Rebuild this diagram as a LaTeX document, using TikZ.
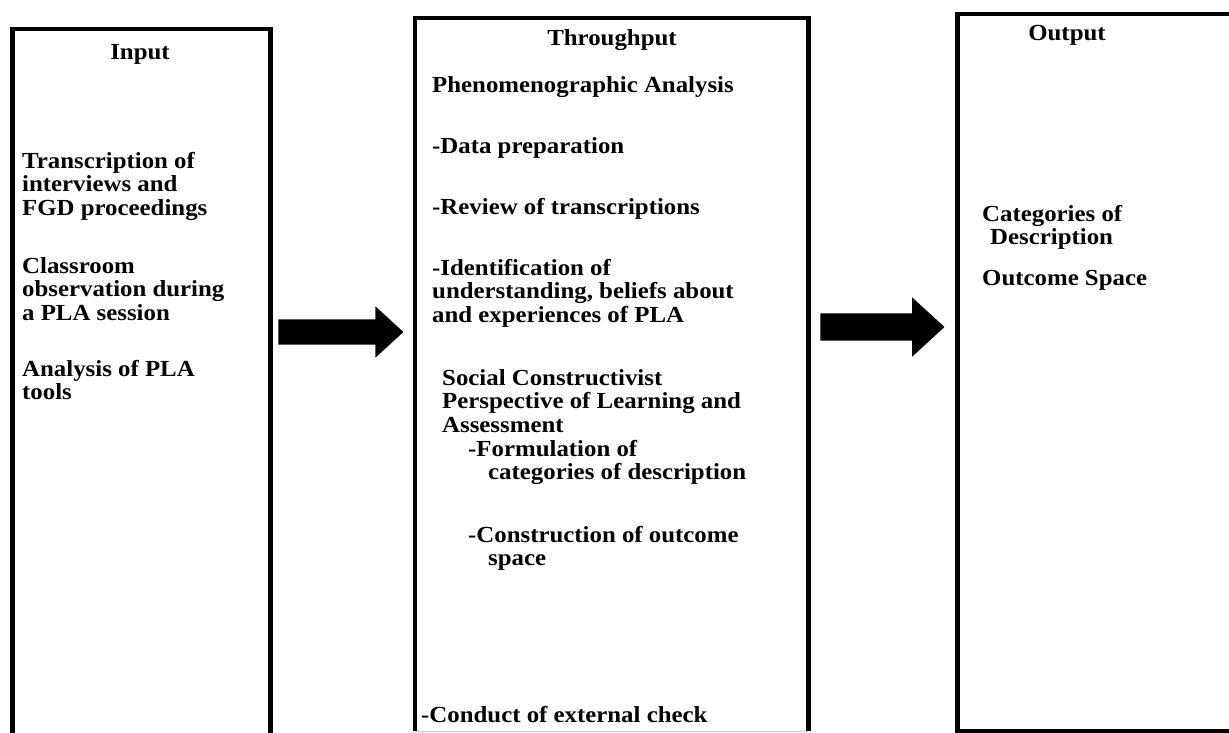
\documentclass[tikz,border=0pt]{standalone}
\usepackage{fontspec}
\setmainfont{Liberation Serif}[BoldFeatures={FakeStretch=1.08}]
\usetikzlibrary{shapes.arrows}
\begin{document}
\begin{tikzpicture}[x=1pt,y=-1pt,
  frame/.style={draw, line width=4.5pt, inner sep=0, anchor=north west},
  area/.style={inner sep=0, anchor=north west},
  edge/.style={line width=4.5pt},
  txt/.style={font=\bfseries\fontsize{23}{23.5}\selectfont, align=left, anchor=north west, inner sep=0},
  head/.style={font=\bfseries\fontsize{23}{23.5}\selectfont, inner sep=0},
  fatarrow/.style={single arrow, fill=black, inner xsep=0, inner ysep=12.5pt,
    single arrow head extend=13pt, single arrow tip angle=85}
]
\useasboundingbox (0,0) rectangle (1229,733);
\clip (0,0) rectangle (1229,733);

% the three stage boxes
\node[frame, minimum width=258pt, minimum height=730pt] (inbox) at (10,27) {};
\node[area, minimum width=393pt, minimum height=713pt] (thbox) at (415,18) {};
\draw[edge] (thbox.south west) -- (thbox.north west) -- (thbox.north east) -- (thbox.south east);
\draw[gray!45, line width=1.5pt] (thbox.south west) -- (thbox.south east);
\node[frame, minimum width=277pt, minimum height=717pt] (outbox) at (955,12) {};

% block arrows between the stages
\node[fatarrow, minimum height=125pt] (a1) at (334,332) {};
\node[fatarrow, minimum height=124pt, inner ysep=13.5pt, single arrow head extend=16pt] (a2) at (875,327) {};

% Input
\node[head] (inhead) at (140,54) {Input};
\node[txt] (in1) at (22,152) {Transcription of\\interviews and\\FGD proceedings};
\node[txt] (in2) at (22,257) {Classroom\\observation during\\a PLA session};
\node[txt] (in3) at (22,360) {Analysis of PLA\\tools};

% Throughput
\node[head] (thhead) at (612,40) {Throughput};
\node[txt] (th1) at (432,76) {Phenomenographic Analysis};
\node[txt] (th2) at (432,137) {-Data preparation};
\node[txt] (th3) at (432,198) {-Review of transcriptions};
\node[txt] (th4) at (432,259) {-Identification of\\understanding, beliefs about\\and experiences of PLA};
\node[txt] (th5) at (442,369) {Social Constructivist\\Perspective of Learning and\\Assessment};
\node[txt] (th6) at (468,440) {-Formulation of\\\hspace*{20pt}categories of description};
\node[txt] (th7) at (468,526) {-Construction of outcome\\\hspace*{20pt}space};
\node[txt] (th8) at (421,706) {-Conduct of external check};

% Output
\node[head] (outhead) at (1067,35) {Output};
\node[txt] (out1) at (982,205) {Categories of\\\hspace*{8pt}Description};
\node[txt] (out2) at (982,270) {Outcome Space};
\end{tikzpicture}
\end{document}
